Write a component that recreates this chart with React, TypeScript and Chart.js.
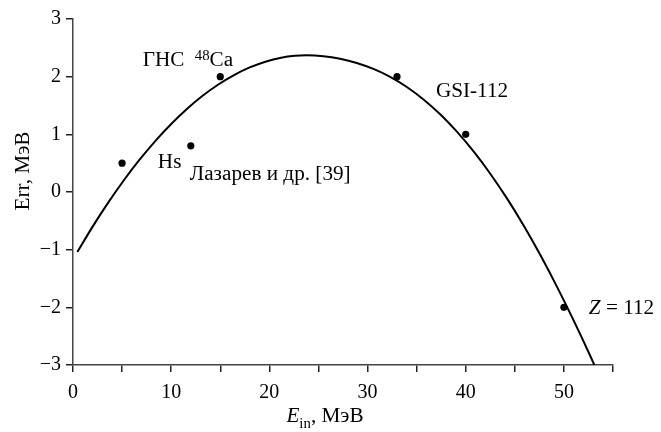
import React, { useEffect, useRef } from "react";
import { Chart, registerables } from "chart.js";

Chart.register(...registerables);

// ---- data ----
const curveX = [0.44, 2.0, 3.6, 5.2, 6.8, 8.4, 10.0, 11.6, 13.2, 14.8, 16.4, 18.0, 19.6, 21.2, 22.6, 23.8, 25.5, 27.2, 28.9, 30.6, 32.3, 34.0, 35.7, 37.4, 39.1, 40.8, 42.5, 44.2, 45.9, 47.6, 49.3, 51.0, 52.7, 53.6];
const curveY = [-1.04, -0.6, -0.18, 0.208, 0.564, 0.888, 1.18, 1.44, 1.668, 1.864, 2.028, 2.16, 2.26, 2.328, 2.361, 2.37, 2.355, 2.311, 2.238, 2.134, 1.996, 1.821, 1.605, 1.347, 1.046, 0.703, 0.317, -0.111, -0.582, -1.094, -1.645, -2.231, -2.848, -3.19];

const pointX = [5, 12, 15, 33, 40, 50];
const pointY = [0.5, 0.8, 2, 2, 1, -2];

const xTicks = [0, 10, 20, 30, 40, 50];
const yTicks = [-3, -2, -1, 0, 1, 2, 3];

type Seg = { t: string; italic?: boolean; sup?: boolean; sub?: boolean };
const annotations: { x: number; y: number; segs: Seg[] }[] = [
  { x: 7.1, y: 2.18, segs: [{ t: "ГНС" }] },
  { x: 12.4, y: 2.18, segs: [{ t: "48", sup: true }, { t: "Ca" }] },
  { x: 8.64, y: 0.415, segs: [{ t: "Hs" }] },
  { x: 11.9, y: 0.205, segs: [{ t: "Лазарев и др. [39]" }] },
  { x: 36.96, y: 1.65, segs: [{ t: "GSI-112" }] },
  { x: 52.54, y: -2.12, segs: [{ t: "Z", italic: true }, { t: " = 112" }] },
];

const xTitle: Seg[] = [{ t: "E", italic: true }, { t: "in", sub: true }, { t: ", МэВ" }];
const yTitle: Seg[] = [{ t: "Err, МэВ" }];

const FONT = '"Liberation Serif", "Times New Roman", serif';
const STRETCH = 1.06;

function segFont(s: Seg, size: number) {
  const sz = s.sup || s.sub ? Math.round(size * 0.72) : size;
  return `${s.italic ? "italic " : ""}${sz}px ${FONT}`;
}

function richWidth(ctx: CanvasRenderingContext2D, segs: Seg[], size: number) {
  let w = 0;
  for (const s of segs) {
    ctx.font = segFont(s, size);
    w += ctx.measureText(s.t).width;
  }
  return w;
}

function drawRich(ctx: CanvasRenderingContext2D, x: number, y: number, segs: Seg[], size: number) {
  let cx = 0;
  ctx.save();
  ctx.translate(x, y);
  ctx.scale(STRETCH, 1);
  ctx.textBaseline = "alphabetic";
  ctx.textAlign = "left";
  ctx.fillStyle = "#000";
  for (const s of segs) {
    ctx.font = segFont(s, size);
    const dy = s.sup ? -size * 0.3 : s.sub ? size * 0.3 : 0;
    ctx.fillText(s.t, cx, dy);
    cx += ctx.measureText(s.t).width;
  }
  ctx.restore();
}

const textPlugin = {
  id: "textPlugin",
  afterDraw(chart: any) {
    const ctx: CanvasRenderingContext2D = chart.ctx;
    const xs = chart.scales.x;
    const ys = chart.scales.y;
    const size = 20;
    for (const a of annotations) {
      drawRich(ctx, xs.getPixelForValue(a.x), ys.getPixelForValue(a.y), a.segs, size);
    }
    // x title
    const wx = richWidth(ctx, xTitle, size) * STRETCH;
    drawRich(ctx, 325 - wx / 2, 422, xTitle, size);
    // y title
    const wy = richWidth(ctx, yTitle, size) * STRETCH;
    ctx.save();
    ctx.translate(29, 171);
    ctx.rotate(-Math.PI / 2);
    drawRich(ctx, -wy / 2, 0, yTitle, size);
    ctx.restore();
  },
};

export default function App() {
  const ref = useRef<HTMLCanvasElement>(null);
  useEffect(() => {
    if (!ref.current) return;
    const curve = curveX.map((x, i) => ({ x, y: curveY[i] }));
    const pts = pointX.map((x, i) => ({ x, y: pointY[i] }));
    const chart = new Chart(ref.current, {
      type: "scatter",
      data: {
        datasets: [
          {
            data: curve,
            showLine: true,
            borderColor: "#000",
            borderWidth: 2,
            pointRadius: 0,
            cubicInterpolationMode: "monotone",
            fill: false,
          } as any,
          {
            data: pts,
            showLine: false,
            pointRadius: 3.6,
            pointBackgroundColor: "#000",
            pointBorderColor: "#000",
            pointBorderWidth: 0,
          },
        ],
      },
      options: {
        responsive: false,
        animation: false,
        events: [],
        layout: { padding: { top: 19, right: 48, left: 0, bottom: 0 } },
        plugins: { legend: { display: false }, tooltip: { enabled: false }, title: { display: false } },
        scales: {
          x: {
            type: "linear",
            min: 0,
            max: 55,
            afterFit: (s: any) => {
              s.height = 67;
            },
            afterBuildTicks: (s: any) => {
              const t: any[] = [];
              for (let v = 0; v <= 55; v += 5) t.push({ value: v });
              s.ticks = t;
            },
            ticks: {
              autoSkip: false,
              maxRotation: 0,
              padding: 9,
              color: "#000",
              font: { family: FONT, size: 20 },
              callback: (v: any) => (xTicks.includes(Number(v)) ? String(v) : ""),
            },
            grid: { drawOnChartArea: false, drawTicks: true, tickLength: 7, color: "#222", lineWidth: 1.5 },
            border: { display: true, color: "#444", width: 1.5 },
          },
          y: {
            type: "linear",
            min: -3,
            max: 3,
            afterFit: (s: any) => {
              s.width = 73;
            },
            afterBuildTicks: (s: any) => {
              s.ticks = yTicks.map((v) => ({ value: v }));
            },
            ticks: {
              padding: 5,
              color: "#000",
              font: { family: FONT, size: 20 },
              callback: (v: any) => (Number(v) < 0 ? "\u2212" + Math.abs(Number(v)) : String(v)),
            },
            grid: { drawOnChartArea: false, drawTicks: true, tickLength: 7, color: "#222", lineWidth: 1.5 },
            border: { display: true, color: "#444", width: 1.5 },
          },
        },
      },
      plugins: [textPlugin],
    });
    return () => chart.destroy();
  }, []);
  return (
    <div style={{ position: "absolute", left: 0, top: 0, width: 661, height: 432, background: "#fff" }}>
      <canvas ref={ref} width={661} height={432} style={{ display: "block" }} />
    </div>
  );
}
